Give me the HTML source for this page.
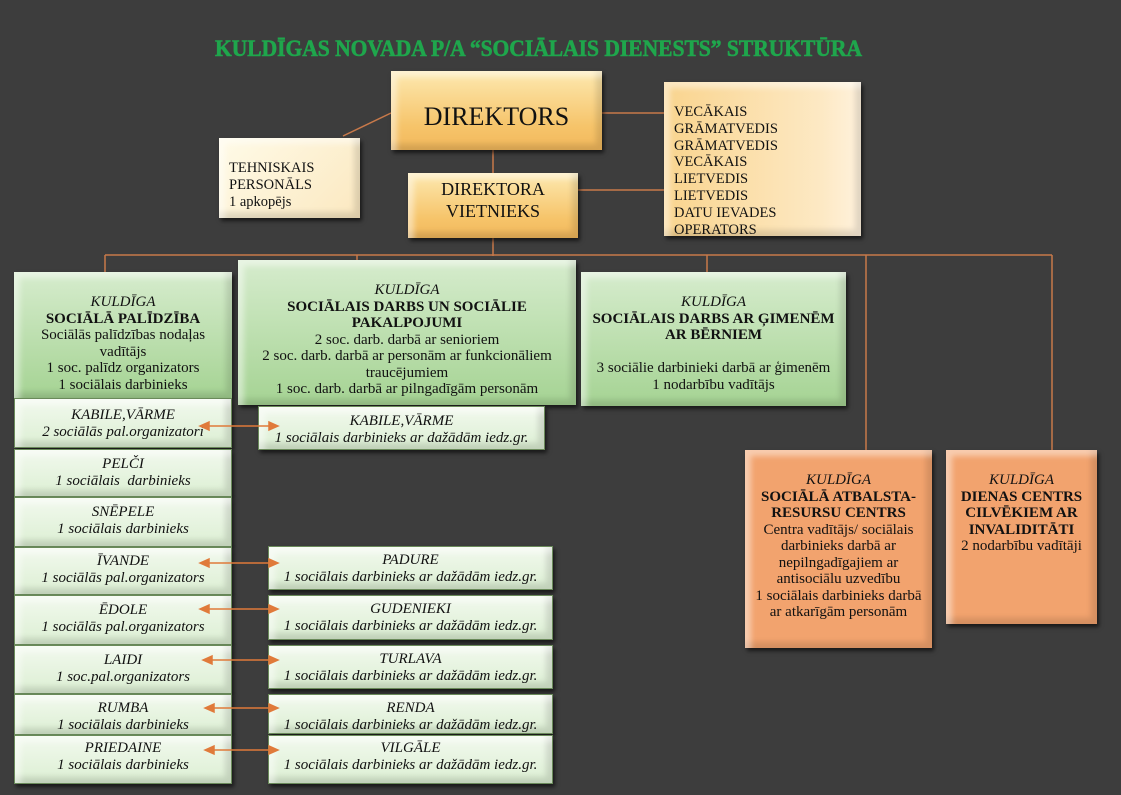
<!DOCTYPE html>
<html><head><meta charset="utf-8"><style>
body{margin:0;width:1121px;height:795px;background:#3d3d3d;overflow:hidden;font-family:"Liberation Serif",serif;color:#111}
.b{position:absolute;box-sizing:border-box;text-align:center;line-height:16.5px;font-size:15px;box-shadow:2px 3px 4px rgba(0,0,0,.6), inset 6px 6px 6px rgba(255,255,255,.45), inset -6px -6px 6px rgba(0,0,0,.12);overflow:hidden}
.y{background:linear-gradient(180deg,#fde9b0,#f6c46a 70%,#f2b85c)}
.yl{background:linear-gradient(135deg,#fffbe8,#fbe8c0)}
.g{background:linear-gradient(180deg,#d6eccd,#a5d393)}
.gl{background:linear-gradient(180deg,#f2f9ee,#dcefd3);border:1px solid #6a8a5a}
.o{background:#f2a36e}
.i{font-style:italic}
.bd{font-weight:bold}
svg{position:absolute;left:0;top:0}
</style></head><body>
<svg width="1121" height="795">
<text x="215" y="56" textLength="647" lengthAdjust="spacingAndGlyphs" font-family="Liberation Serif, serif" font-weight="bold" font-size="23" fill="#1fa64c" stroke="#1fa64c" stroke-width="0.6">KULDĪGAS NOVADA P/A “SOCIĀLAIS DIENESTS” STRUKTŪRA</text>
<g stroke="#c8794a" stroke-width="1.5" fill="none">
<line x1="493" y1="150" x2="493" y2="173"/>
<line x1="602" y1="113" x2="664" y2="113"/>
<line x1="578" y1="190" x2="664" y2="190"/>
<line x1="391" y1="113" x2="343" y2="136"/>
<line x1="493" y1="238" x2="493" y2="256"/>
<line x1="105" y1="255" x2="1052" y2="255"/>
<line x1="105" y1="255" x2="105" y2="272"/>
<line x1="357" y1="255" x2="357" y2="262"/>
<line x1="707" y1="255" x2="707" y2="272"/>
<line x1="866" y1="255" x2="866" y2="450"/>
<line x1="1052" y1="255" x2="1052" y2="450"/>
</g>
</svg>

<div class="b y" style="left:391px;top:71px;width:211px;height:79px;font-size:26px;line-height:79px;padding-top:6px">DIREKTORS</div>
<div class="b y" style="left:408px;top:173px;width:170px;height:65px;font-size:18px;line-height:22px;padding-top:5px">DIREKTORA<br>VIETNIEKS</div>
<div class="b yl" style="left:219px;top:138px;width:141px;height:80px;text-align:left;padding:22px 0 0 10px;font-size:14.5px;line-height:17px">TEHNISKAIS<br>PERSONĀLS<br>1 apkopējs</div>
<div class="b y" style="left:664px;top:82px;width:197px;height:154px;text-align:left;padding:22px 0 0 10px;font-size:14.5px;line-height:16.8px;background:linear-gradient(90deg,#f9d48e,#fde9c4 80%,#fff2dd)">VECĀKAIS<br>GRĀMATVEDIS<br>GRĀMATVEDIS<br>VECĀKAIS<br>LIETVEDIS<br>LIETVEDIS<br>DATU IEVADES<br>OPERATORS</div>

<div class="b g" style="left:14px;top:272px;width:218px;height:126px;padding:22px 4px 0"><span class="i">KULDĪGA</span><br><span class="bd">SOCIĀLĀ PALĪDZĪBA</span><br>Sociālās palīdzības nodaļas<br>vadītājs<br>1 soc. palīdz organizators<br>1 sociālais darbinieks</div>
<div class="b g" style="left:238px;top:260px;width:338px;height:145px;padding-top:22px"><span class="i">KULDĪGA</span><br><span class="bd">SOCIĀLAIS DARBS UN SOCIĀLIE<br>PAKALPOJUMI</span><br>2 soc. darb. darbā ar senioriem<br>2 soc. darb. darbā ar personām ar funkcionāliem<br>traucējumiem<br>1 soc. darb. darbā ar pilngadīgām personām</div>
<div class="b g" style="left:581px;top:272px;width:265px;height:134px;padding-top:22px"><span class="i">KULDĪGA</span><br><span class="bd">SOCIĀLAIS DARBS AR ĢIMENĒM<br>AR BĒRNIEM</span><br><br>3 sociālie darbinieki darbā ar ģimenēm<br>1 nodarbību vadītājs</div>

<div class="b o" style="left:745px;top:450px;width:187px;height:198px;padding:22px 4px 0"><span class="i">KULDĪGA</span><br><span class="bd">SOCIĀLĀ ATBALSTA-<br>RESURSU CENTRS</span><br>Centra vadītājs/ sociālais<br>darbinieks darbā ar<br>nepilngadīgajiem ar<br>antisociālu uzvedību<br>1 sociālais darbinieks darbā<br>ar atkarīgām personām</div>
<div class="b o" style="left:946px;top:450px;width:151px;height:174px;padding-top:22px"><span class="i">KULDĪGA</span><br><span class="bd">DIENAS CENTRS<br>CILVĒKIEM AR<br>INVALIDITĀTI</span><br>2 nodarbību vadītāji</div>

<div class="b gl i" style="left:14px;top:398px;width:218px;height:50px;padding-top:8px">KABILE,VĀRME<br>2 sociālās pal.organizatori</div>
<div class="b gl i" style="left:14px;top:449px;width:218px;height:48px;padding-top:6px">PELČI<br>1 sociālais &nbsp;darbinieks</div>
<div class="b gl i" style="left:14px;top:497px;width:218px;height:50px;padding-top:6px">SNĒPELE<br>1 sociālais darbinieks</div>
<div class="b gl i" style="left:14px;top:547px;width:218px;height:48px;padding-top:5px">ĪVANDE<br>1 sociālās pal.organizators</div>
<div class="b gl i" style="left:14px;top:595px;width:218px;height:50px;padding-top:6px">ĒDOLE<br>1 sociālās pal.organizators</div>
<div class="b gl i" style="left:14px;top:645px;width:218px;height:49px;padding-top:6px">LAIDI<br>1 soc.pal.organizators</div>
<div class="b gl i" style="left:14px;top:694px;width:218px;height:41px;padding-top:5px">RUMBA<br>1 sociālais darbinieks</div>
<div class="b gl i" style="left:14px;top:735px;width:218px;height:49px;padding-top:4px">PRIEDAINE<br>1 sociālais darbinieks</div>

<div class="b gl i" style="left:258px;top:406px;width:287px;height:44px;padding-top:6px">KABILE,VĀRME<br>1 sociālais darbinieks ar dažādām iedz.gr.</div>
<div class="b gl i" style="left:268px;top:546px;width:285px;height:44px;padding-top:5px">PADURE<br>1 sociālais darbinieks ar dažādām iedz.gr.</div>
<div class="b gl i" style="left:268px;top:595px;width:285px;height:45px;padding-top:5px">GUDENIEKI<br>1 sociālais darbinieks ar dažādām iedz.gr.</div>
<div class="b gl i" style="left:268px;top:645px;width:285px;height:44px;padding-top:5px">TURLAVA<br>1 sociālais darbinieks ar dažādām iedz.gr.</div>
<div class="b gl i" style="left:268px;top:694px;width:285px;height:40px;padding-top:5px">RENDA<br>1 sociālais darbinieks ar dažādām iedz.gr.</div>
<div class="b gl i" style="left:268px;top:735px;width:285px;height:49px;padding-top:4px">VILGĀLE<br>1 sociālais darbinieks ar dažādām iedz.gr.</div>

<svg width="1121" height="795" style="z-index:5">
<g stroke="#e07a3a" stroke-width="1.5" fill="#e07a3a">
<line x1="204" y1="426" x2="274" y2="426"/><polygon points="200,426 209,422 209,430"/><polygon points="278,426 269,422 269,430"/>
<line x1="204" y1="563" x2="274" y2="563"/><polygon points="200,563 209,559 209,567"/><polygon points="278,563 269,559 269,567"/>
<line x1="204" y1="609" x2="274" y2="609"/><polygon points="200,609 209,605 209,613"/><polygon points="278,609 269,605 269,613"/>
<line x1="208" y1="660" x2="274" y2="660"/><polygon points="203,660 212,656 212,664"/><polygon points="278,660 269,656 269,664"/>
<line x1="210" y1="708" x2="274" y2="708"/><polygon points="205,708 214,704 214,712"/><polygon points="278,708 269,704 269,712"/>
<line x1="210" y1="750" x2="274" y2="750"/><polygon points="205,750 214,746 214,754"/><polygon points="278,750 269,746 269,754"/>
</g>
</svg>
</body></html>
